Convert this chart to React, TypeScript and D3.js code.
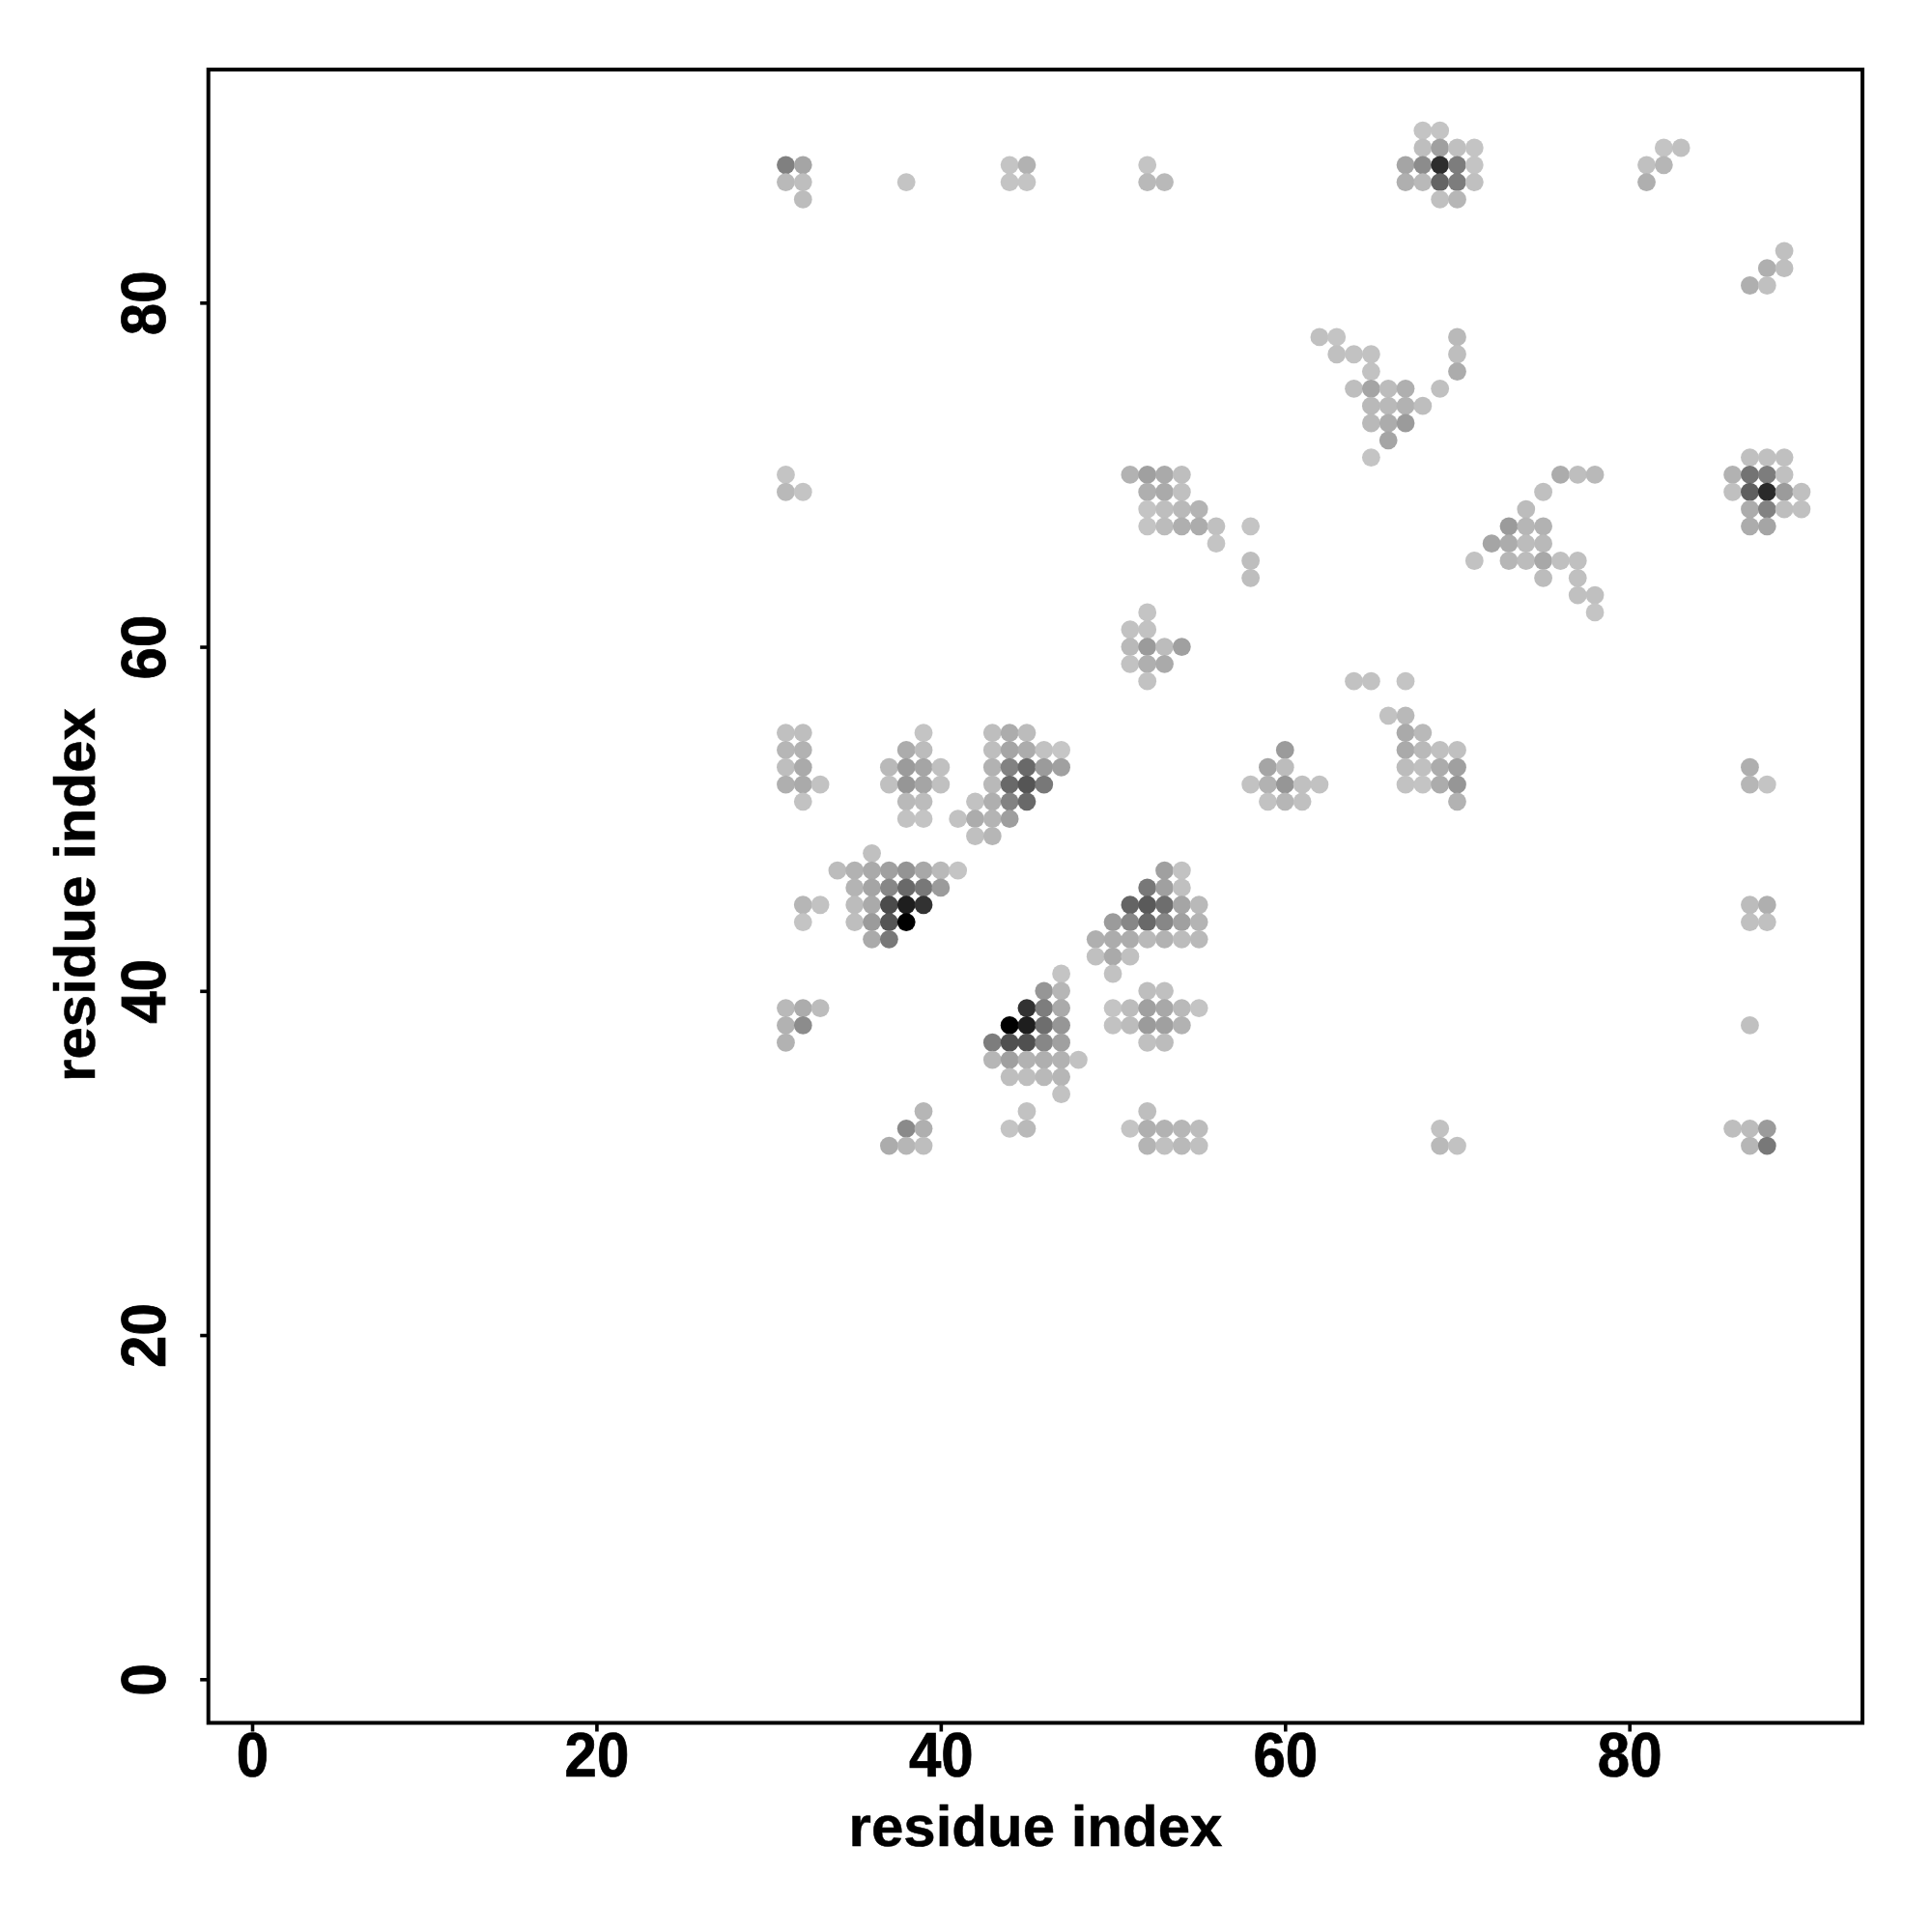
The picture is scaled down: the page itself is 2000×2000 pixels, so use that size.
import { useRef, useEffect } from 'react'
import * as d3 from 'd3'

// each row: [residue x, grey level of the dot]
const y90 = [[68,196],[69,196]]
const y89 = [[68,190],[69,160],[70,192],[71,196],[82,196],[83,192]]
const y88 = [[31,128],[32,165],[44,196],[45,178],[52,196],[67,165],[68,140],[69,45],[70,125],[71,196],[81,192],[82,182]]
const y87 = [[31,185],[32,190],[38,196],[44,196],[45,196],[52,185],[53,185],[67,175],[68,185],[69,100],[70,125],[71,192],[81,175]]
const y86 = [[32,188],[69,192],[70,182]]
const y83 = [[89,192]]
const y82 = [[88,175],[89,190]]
const y81 = [[87,175],[88,192]]
const y78 = [[62,192],[63,196],[70,185]]
const y77 = [[63,192],[64,194],[65,194],[70,190]]
const y76 = [[65,194],[70,172]]
const y75 = [[64,190],[65,165],[66,188],[67,175],[69,192]]
const y74 = [[65,185],[66,185],[67,178],[68,190]]
const y73 = [[65,185],[66,172],[67,155]]
const y72 = [[66,165]]
const y71 = [[65,196],[87,192],[88,192],[89,192]]
const y70 = [[31,196],[51,178],[52,160],[53,170],[54,190],[76,172],[77,190],[78,185],[86,178],[87,115],[88,125],[89,192]]
const y69 = [[31,185],[32,196],[52,175],[53,170],[54,192],[75,192],[86,192],[87,95],[88,42],[89,155],[90,192]]
const y68 = [[52,196],[53,190],[54,185],[55,180],[74,188],[87,172],[88,130],[89,190],[90,192]]
const y67 = [[52,196],[53,188],[54,175],[55,172],[56,192],[58,196],[73,155],[74,182],[75,178],[87,172],[88,165]]
const y66 = [[56,196],[72,165],[73,172],[74,188],[75,185]]
const y65 = [[58,190],[71,194],[73,182],[74,188],[75,168],[76,192],[77,192]]
const y64 = [[58,190],[75,188],[77,192]]
const y63 = [[77,192],[78,192]]
const y62 = [[52,196],[78,196]]
const y61 = [[51,194],[52,194]]
const y60 = [[51,185],[52,155],[53,188],[54,160]]
const y59 = [[51,194],[52,175],[53,170]]
const y58 = [[52,194],[64,194],[65,194],[67,196]]
const y56 = [[66,194],[67,185]]
const y55 = [[31,192],[32,190],[39,196],[43,190],[44,172],[45,188],[67,170],[68,185]]
const y54 = [[31,182],[32,178],[38,172],[39,188],[43,190],[44,165],[45,172],[46,194],[47,198],[60,155],[67,170],[68,185],[69,192],[70,192]]
const y53 = [[31,190],[32,170],[37,185],[38,155],[39,165],[40,192],[43,178],[44,130],[45,105],[46,155],[47,160],[59,165],[60,188],[67,188],[68,192],[69,172],[70,160],[87,175]]
const y52 = [[31,175],[32,170],[33,194],[37,192],[38,150],[39,165],[40,192],[43,185],[44,105],[45,85],[46,120],[58,194],[59,178],[60,150],[61,192],[62,194],[67,194],[68,196],[69,172],[70,150],[87,182],[88,196]]
const y51 = [[32,194],[38,185],[39,188],[42,194],[43,175],[44,130],[45,105],[59,194],[60,182],[61,192],[70,178]]
const y50 = [[38,194],[39,196],[41,194],[42,172],[43,180],[44,158]]
const y49 = [[42,192],[43,182]]
const y48 = [[36,192]]
const y47 = [[34,188],[35,178],[36,170],[37,160],[38,148],[39,168],[40,185],[41,196],[53,160],[54,194]]
const y46 = [[35,180],[36,165],[37,135],[38,105],[39,120],[40,155],[52,120],[53,160],[54,192]]
const y45 = [[32,182],[33,194],[35,188],[36,170],[37,75],[38,30],[39,50],[51,100],[52,90],[53,110],[54,165],[55,185],[87,188],[88,175]]
const y44 = [[32,196],[35,190],[36,155],[37,85],[38,0],[50,155],[51,135],[52,105],[53,135],[54,160],[55,180],[87,192],[88,192]]
const y43 = [[36,170],[37,120],[49,175],[50,172],[51,172],[52,185],[53,178],[54,188],[55,185]]
const y42 = [[49,192],[50,170],[51,192]]
const y41 = [[47,196],[50,194]]
const y40 = [[46,150],[47,182],[52,190],[53,192]]
const y39 = [[31,185],[32,172],[33,188],[45,50],[46,125],[47,170],[50,196],[51,188],[52,160],[53,168],[54,185],[55,196]]
const y38 = [[31,178],[32,140],[44,0],[45,30],[46,110],[47,150],[50,194],[51,188],[52,155],[53,160],[54,178],[87,192]]
const y37 = [[31,178],[43,125],[44,80],[45,80],[46,135],[47,160],[52,192],[53,188]]
const y36 = [[43,182],[44,160],[45,178],[46,175],[47,178],[48,194]]
const y35 = [[44,190],[45,190],[46,185],[47,182]]
const y34 = [[47,194]]
const y33 = [[39,182],[45,194],[52,190]]
const y32 = [[38,138],[39,175],[44,196],[45,185],[51,196],[52,175],[53,178],[54,182],[55,188],[69,194],[86,190],[87,188],[88,155]]
const y31 = [[37,172],[38,182],[39,190],[52,180],[53,192],[54,185],[55,192],[69,185],[70,194],[87,182],[88,120]]

const rows: [number, number[][]][] = [
  [90,y90],[89,y89],[88,y88],[87,y87],[86,y86],[83,y83],[82,y82],[81,y81],
  [78,y78],[77,y77],[76,y76],[75,y75],[74,y74],[73,y73],[72,y72],[71,y71],
  [70,y70],[69,y69],[68,y68],[67,y67],[66,y66],[65,y65],[64,y64],[63,y63],
  [62,y62],[61,y61],[60,y60],[59,y59],[58,y58],[56,y56],[55,y55],[54,y54],
  [53,y53],[52,y52],[51,y51],[50,y50],[49,y49],[48,y48],[47,y47],[46,y46],
  [45,y45],[44,y44],[43,y43],[42,y42],[41,y41],[40,y40],[39,y39],[38,y38],
  [37,y37],[36,y36],[35,y35],[34,y34],[33,y33],[32,y32],[31,y31],
]

const TICKS = [0, 20, 40, 60, 80]
const LABEL = 'residue index'
const FONT = '"Liberation Sans", Arial, sans-serif'

export default function App() {
  const svgRef = useRef<SVGSVGElement>(null)

  useEffect(() => {
    if (!svgRef.current) return
    const svg = d3.select(svgRef.current)
    svg.selectAll('*').remove()

    const left = 215.7, right = 1928, top = 72, bottom = 1783.5

    const x = d3.scaleLinear().domain([0, 80]).range([261, 1686.7])
    const y = d3.scaleLinear().domain([0, 80]).range([1738.3, 313.3])

    svg.append('rect').attr('width', 2000).attr('height', 2000).attr('fill', '#fff')

    // dots
    const points = rows.flatMap(([ry, cells]) => cells.map(([rx, grey]) => ({ rx, ry, grey })))
    svg.append('g').selectAll('circle')
      .data(points)
      .enter()
      .append('circle')
      .attr('cx', d => x(d.rx))
      .attr('cy', d => y(d.ry))
      .attr('r', 9.4)
      .attr('fill', d => d3.rgb(d.grey, d.grey, d.grey).formatHex())

    // box
    svg.append('rect')
      .attr('x', left).attr('y', top)
      .attr('width', right - left).attr('height', bottom - top)
      .attr('fill', 'none').attr('stroke', '#000').attr('stroke-width', 4)

    // axes
    const xAxis = d3.axisBottom(x).tickValues(TICKS).tickSize(9).tickPadding(0).tickFormat(d3.format('d'))
    const yAxis = d3.axisLeft(y).tickValues(TICKS).tickSize(8.5).tickPadding(0).tickFormat(d3.format('d'))

    const gx = svg.append('g').attr('transform', `translate(0,${bottom})`).call(xAxis)
    const gy = svg.append('g').attr('transform', `translate(${left},0)`).call(yAxis)
    gx.select('.domain').remove()
    gy.select('.domain').remove()

    gx.selectAll('line').attr('stroke', '#000').attr('stroke-width', 3.6)
    gy.selectAll('line').attr('stroke', '#000').attr('stroke-width', 3.6)

    // digits in the reference are a little taller and heavier than Liberation's
    gx.selectAll('text')
      .attr('y', 0).attr('dy', 0)
      .attr('transform', `translate(0,${1838.5 - bottom}) scale(1,1.07)`)
      .attr('font-family', FONT).attr('font-weight', 700).attr('font-size', 60)
      .attr('fill', '#000').attr('stroke', '#000').attr('stroke-width', 0.7).attr('text-anchor', 'middle')
    gy.selectAll('text')
      .attr('x', null).attr('dy', 0)
      .attr('transform', `translate(${170.5 - left},0) rotate(-90) scale(1,1.07)`)
      .attr('font-family', FONT).attr('font-weight', 700).attr('font-size', 60)
      .attr('fill', '#000').attr('stroke', '#000').attr('stroke-width', 0.7).attr('text-anchor', 'middle')

    // titles
    svg.append('text')
      .attr('x', 1072).attr('y', 1910.7)
      .attr('text-anchor', 'middle')
      .attr('font-family', FONT).attr('font-weight', 700).attr('font-size', 60)
      .attr('stroke', '#000').attr('stroke-width', 0.5)
      .text(LABEL)
    svg.append('text')
      .attr('transform', 'translate(98.3,926.5) rotate(-90)')
      .attr('text-anchor', 'middle')
      .attr('font-family', FONT).attr('font-weight', 700).attr('font-size', 60)
      .attr('stroke', '#000').attr('stroke-width', 0.5)
      .text(LABEL)
  }, [])

  return <svg ref={svgRef} width={2000} height={2000} style={{ position: 'absolute', left: 0, top: 0, display: 'block' }} />
}
